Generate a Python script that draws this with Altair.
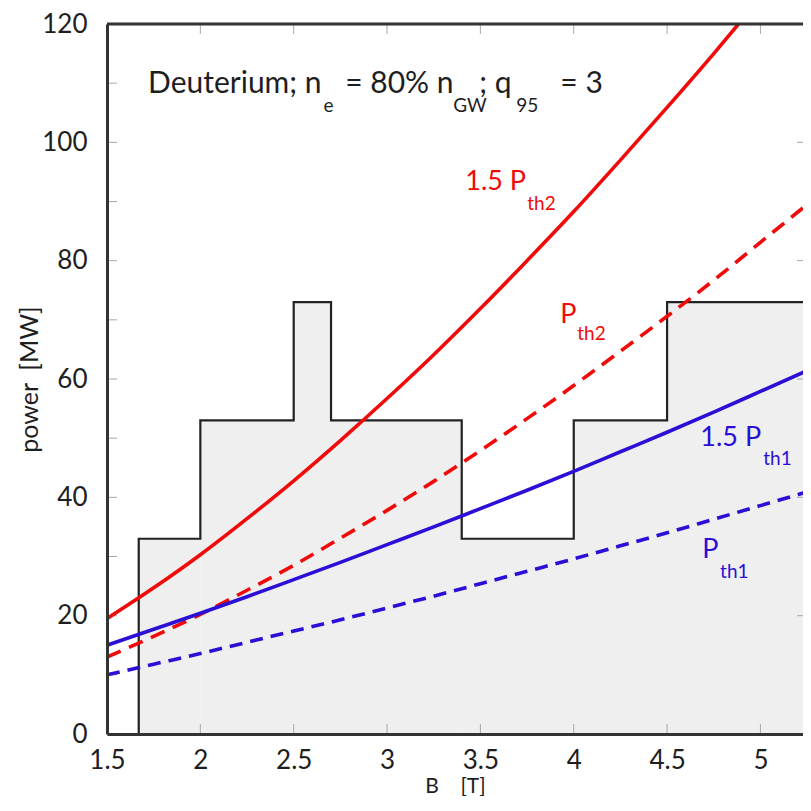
import altair as alt
import pandas as pd

# ---- data ----
B_grid = [1.5, 1.75, 2.0, 2.25, 2.5, 2.75, 3.0, 3.25, 3.5, 3.75, 4.0, 4.25, 4.5, 4.75, 5.0, 5.27]
p_th2_x15 = [19.5, 24.7, 30.3, 36.4, 42.8, 49.6, 56.7, 64.1, 71.9, 80.0, 88.3, 97.0, 105.9, 115.0, 124.5, 135.0]
p_th2 = [13.0, 16.5, 20.2, 24.3, 28.5, 33.1, 37.8, 42.7, 47.9, 53.3, 58.9, 64.7, 70.6, 76.7, 83.1, 90.0]
p_th1_x15 = [15.0, 17.7, 20.4, 23.2, 26.1, 29.0, 32.0, 35.0, 38.1, 41.2, 44.4, 47.7, 51.0, 54.4, 57.9, 61.7]
p_th1 = [10.0, 11.8, 13.6, 15.5, 17.4, 19.3, 21.3, 23.3, 25.4, 27.5, 29.6, 31.8, 34.0, 36.3, 38.6, 41.1]

step_B = [1.67, 1.67, 2.0, 2.5, 2.7, 3.4, 4.0, 4.5, 5.27]
step_P = [0, 33, 53, 73, 53, 33, 53, 73, 73]

x_labels = [1.5, 2.0, 2.5, 3.0, 3.5, 4.0, 4.5, 5.0]
y_labels = [0, 20, 40, 60, 80, 100, 120]
x_minor = [2.0, 2.5, 3.0, 3.5, 4.0, 4.5, 5.0]
y_minor_left = [10, 20, 30, 40, 50, 60, 70, 80, 90, 100, 110]
y_minor_right = [20, 40, 60, 80, 100]

# annotation text pieces (main text / subscripts)
head_text = ["Deuterium; n", "= 80% n", "; q", "= 3"]
head_B = [1.72, 2.776, 3.494, 3.928]
head_P = [108.4, 108.4, 108.4, 108.4]
head_sub_text = ["e", "GW", "95"]
head_sub_B = [2.659, 3.355, 3.692]
head_sub_P = [105.2, 105.2, 105.2]

red_text = ["1.5 P", "P"]
red_B = [3.419, 3.928]
red_P = [91.9, 69.5]
red_sub_text = ["th2", "th2"]
red_sub_B = [3.751, 4.019]
red_sub_P = [88.6, 66.6]

blue_text = ["1.5 P", "P"]
blue_B = [4.678, 4.689]
blue_P = [48.6, 29.8]
blue_sub_text = ["th1", "th1"]
blue_sub_B = [5.015, 4.784]
blue_sub_P = [45.4, 26.4]

W, H = 696, 710
X_MAX = 5.228
FONT = "Lato"
RED = "#f00a0a"
BLUE = "#2a0fd6"
TXT = "#1e1e1e"

x_enc = alt.X(
    "B:Q",
    scale=alt.Scale(domain=[1.5, X_MAX], nice=False, zero=False),
    axis=alt.Axis(
        values=x_labels, format="~g", title="B\u00a0\u00a0\u00a0\u00a0[T]",
        tickSize=0, grid=False, domainColor="#333", domainWidth=3, zindex=1,
        labelFont=FONT, labelFontSize=26, labelColor=TXT, labelPadding=13,
        labelFlush=False, labelOverlap=False,
        titleFont=FONT, titleFontSize=21, titleFontWeight="normal", titleColor=TXT,
        titleY=58, titleBaseline="alphabetic",
    ),
)
y_enc = alt.Y(
    "P:Q",
    scale=alt.Scale(domain=[0, 120], nice=False, zero=True),
    axis=alt.Axis(
        values=y_labels, title="power\u00a0\u00a0[MW]",
        tickSize=0, grid=False, domainColor="#333", domainWidth=3, zindex=1,
        labelFont=FONT, labelFontSize=26, labelColor=TXT, labelPadding=20,
        labelOverlap=False,
        titleFont=FONT, titleFontSize=25, titleFontWeight="normal", titleColor=TXT,
        titleX=-70, titleBaseline="alphabetic",
    ),
)

step_df = pd.DataFrame({"B": step_B, "P": step_P, "i": list(range(len(step_B)))})
area = alt.Chart(step_df).mark_area(interpolate="step-after", color="#efefef", opacity=1, clip=True).encode(
    x=x_enc, y=y_enc, order=alt.Order("i:Q"))
outline = alt.Chart(step_df).mark_line(interpolate="step-after", color="#222", strokeWidth=2.2, clip=True).encode(
    x=x_enc, y=y_enc, order=alt.Order("i:Q"))


def curve(vals, color, dash=None):
    df = pd.DataFrame({"B": B_grid, "P": vals})
    kw = dict(color=color, strokeWidth=3.6, clip=True, interpolate="monotone")
    if dash:
        kw["strokeDash"] = dash
    return alt.Chart(df).mark_line(**kw).encode(x=x_enc, y=y_enc)


lines = [
    curve(p_th2_x15, RED),
    curve(p_th2, RED, [15, 9]),
    curve(p_th1_x15, BLUE),
    curve(p_th1, BLUE, [13, 8]),
]

one = pd.DataFrame({"B": [1.5]})
top_frame = alt.Chart(one).mark_rule(color="#333", strokeWidth=3).encode(
    x=alt.value(0), x2=alt.value(W), y=alt.value(0))

tick_col = "#a8a8a8"
yl = alt.Chart(pd.DataFrame({"P": y_minor_left})).mark_rule(color=tick_col, strokeWidth=1).encode(
    y=y_enc, x=alt.value(1), x2=alt.value(10))
yr = alt.Chart(pd.DataFrame({"P": y_minor_right})).mark_rule(color=tick_col, strokeWidth=1).encode(
    y=y_enc, x=alt.value(W - 6), x2=alt.value(W))
xt = alt.Chart(pd.DataFrame({"B": x_minor})).mark_rule(color=tick_col, strokeWidth=1).encode(
    x=x_enc, y=alt.value(1), y2=alt.value(10))
xb = alt.Chart(pd.DataFrame({"B": x_minor})).mark_rule(color=tick_col, strokeWidth=1).encode(
    x=x_enc, y=alt.value(H - 10), y2=alt.value(H - 1))


def texts(txt, bs, ps, color, size):
    df = pd.DataFrame({"B": bs, "P": ps, "t": txt})
    return alt.Chart(df).mark_text(
        align="left", baseline="alphabetic", font=FONT, fontSize=size, color=color
    ).encode(x=x_enc, y=y_enc, text="t:N")


labels = [
    texts(head_text, head_B, head_P, TXT, 30),
    texts(head_sub_text, head_sub_B, head_sub_P, TXT, 19),
    texts(red_text, red_B, red_P, RED, 27),
    texts(red_sub_text, red_sub_B, red_sub_P, RED, 19),
    texts(blue_text, blue_B, blue_P, BLUE, 27),
    texts(blue_sub_text, blue_sub_B, blue_sub_P, BLUE, 19),
]

chart = alt.layer(area, outline, yl, yr, xt, xb, *lines, top_frame, *labels).properties(
    width=W, height=H,
    autosize=alt.AutoSizeParams(type="none"),
    padding={"left": 99, "top": 16, "right": 0, "bottom": 62},
).configure_view(stroke=None).configure(background="white")

chart.save("out.html", embed_options={"renderer": "svg", "actions": False})
